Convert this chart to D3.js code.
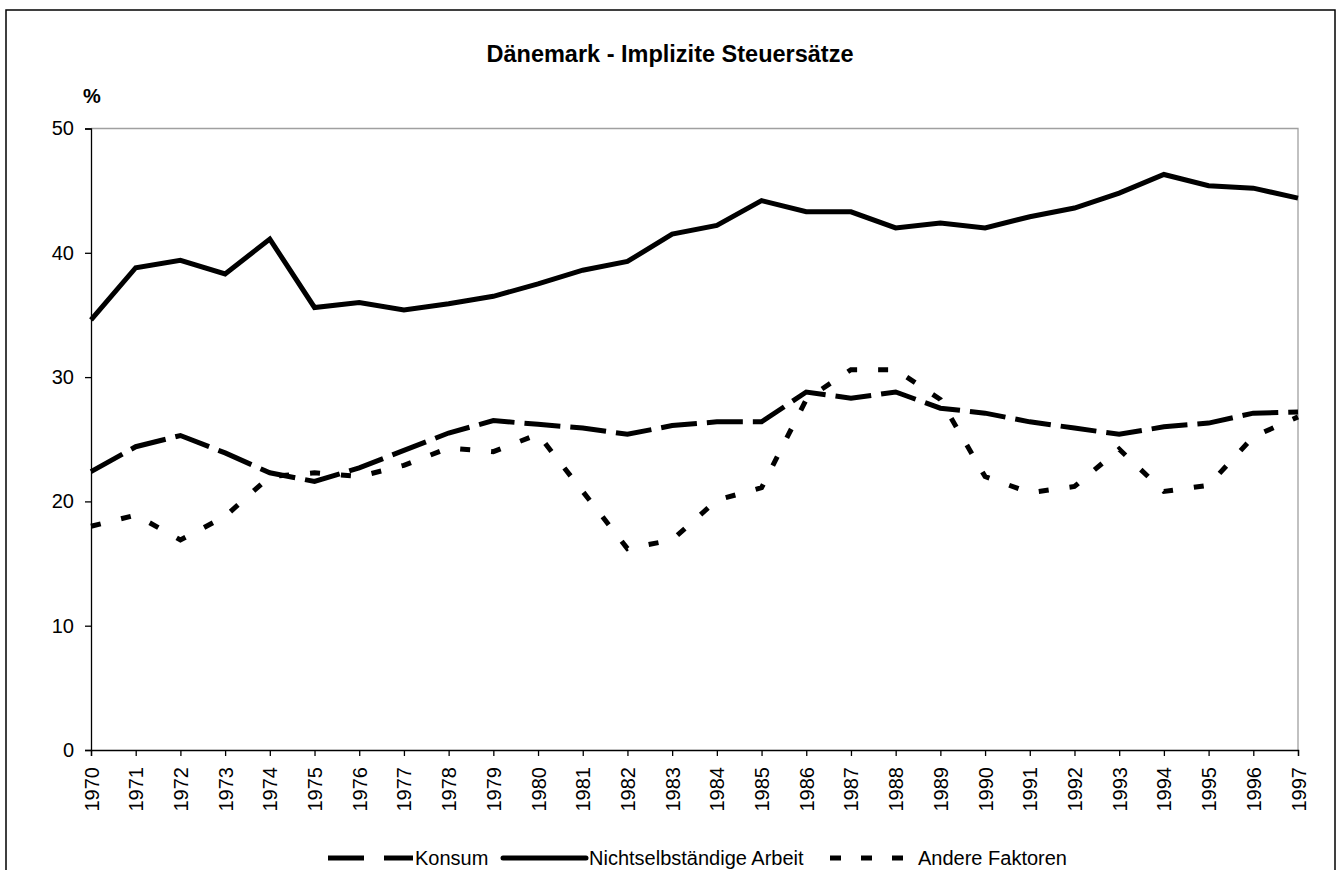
<!DOCTYPE html>
<html>
<head>
<meta charset="utf-8">
<script src="https://cdn.jsdelivr.net/npm/d3@7"></script>
<style>
  body { margin: 0; background: #fff; }
  text { font-family: "Liberation Sans", Arial, sans-serif; fill: #000; }
</style>
</head>
<body>
<div id="chart"></div>
<script>
// data
let years = ["1970","1971","1972","1973","1974","1975","1976","1977","1978","1979",
             "1980","1981","1982","1983","1984","1985","1986","1987","1988","1989",
             "1990","1991","1992","1993","1994","1995","1996","1997"];
let konsum = [22.4, 24.4, 25.3, 23.9, 22.3, 21.6, 22.7, 24.1, 25.5, 26.5,
              26.2, 25.9, 25.4, 26.1, 26.4, 26.4, 28.8, 28.3, 28.8, 27.5,
              27.1, 26.4, 25.9, 25.4, 26.0, 26.3, 27.1, 27.2];
let arbeit = [34.6, 38.8, 39.4, 38.3, 41.1, 35.6, 36.0, 35.4, 35.9, 36.5,
              37.5, 38.6, 39.3, 41.5, 42.2, 44.2, 43.3, 43.3, 42.0, 42.4,
              42.0, 42.9, 43.6, 44.8, 46.3, 45.4, 45.2, 44.4];
let andere = [18.0, 18.9, 16.9, 18.8, 22.0, 22.3, 22.0, 22.9, 24.3, 24.0,
              25.4, 20.8, 16.2, 16.9, 20.1, 21.1, 28.2, 30.6, 30.6, 28.2,
              22.0, 20.7, 21.2, 24.2, 20.8, 21.3, 25.2, 26.8];
let yTicks = [0, 10, 20, 30, 40, 50];
let seriesNames = ["Konsum", "Nichtselbständige Arbeit", "Andere Faktoren"];

// svg size
let svgWidth = 1337;
let svgHeight = 870;

// plot area
let margin = { top: 128.5, right: 39, bottom: 120, left: 91 };
let width = svgWidth - margin.left - margin.right;
let height = 750 - margin.top;

let svg = d3.select("#chart")
    .append("svg")
    .attr("width", svgWidth)
    .attr("height", svgHeight);

svg.append("rect")
    .attr("width", svgWidth)
    .attr("height", svgHeight)
    .attr("fill", "#fff");

// outer frame (runs off the bottom)
svg.append("rect")
    .attr("x", 6)
    .attr("y", 10)
    .attr("width", 1329)
    .attr("height", 900)
    .attr("fill", "none")
    .attr("stroke", "#000")
    .attr("stroke-width", 1.5);

// title and unit
svg.append("text")
    .attr("x", 670)
    .attr("y", 62)
    .attr("text-anchor", "middle")
    .style("font-size", "23.5px")
    .style("font-weight", "bold")
    .text("Dänemark - Implizite Steuersätze");

svg.append("text")
    .attr("x", 83)
    .attr("y", 103)
    .style("font-size", "20px")
    .style("font-weight", "bold")
    .text("%");

let chartGroup = svg.append("g")
    .attr("transform", `translate(${margin.left}, ${margin.top})`);

// scales
let xScale = d3.scalePoint()
    .domain(years)
    .range([0, width]);

let yScale = d3.scaleLinear()
    .domain([0, 50])
    .range([height, 0]);

// grey top and right border of the plot area
chartGroup.append("path")
    .attr("d", `M0,0H${width}V${height}`)
    .attr("fill", "none")
    .attr("stroke", "#a0a0a0")
    .attr("stroke-width", 1.3);

// axes
let leftAxis = d3.axisLeft(yScale)
    .tickValues(yTicks)
    .tickSizeOuter(0)
    .tickSize(6)
    .tickPadding(11);

let bottomAxis = d3.axisBottom(xScale)
    .tickSizeOuter(0)
    .tickSize(6);

let yAxisG = chartGroup.append("g").call(leftAxis);
let xAxisG = chartGroup.append("g")
    .attr("transform", `translate(0, ${height})`)
    .call(bottomAxis);

[yAxisG, xAxisG].forEach(g => {
    g.select(".domain").attr("stroke", "#000").attr("stroke-width", 1.3);
    g.selectAll(".tick line").attr("stroke", "#000").attr("stroke-width", 1.3);
    g.selectAll("text")
        .style("font-size", "20px")
        .style("font-family", "'Liberation Sans', Arial, sans-serif")
        .attr("fill", "#000");
});

xAxisG.selectAll(".tick text")
    .attr("transform", "rotate(-90)")
    .attr("text-anchor", "end")
    .attr("x", -17)
    .attr("y", 0)
    .attr("dy", "0.35em");

// lines
let series = [
    { name: seriesNames[0], values: konsum, dash: "36,10" },
    { name: seriesNames[1], values: arbeit, dash: null },
    { name: seriesNames[2], values: andere, dash: "10,21" }
];

let lineGen = d3.line()
    .x((d, i) => xScale(years[i]))
    .y(d => yScale(d));

series.forEach(s => {
    chartGroup.append("path")
        .datum(s.values)
        .attr("d", lineGen)
        .attr("fill", "none")
        .attr("stroke", "#000")
        .attr("stroke-width", 5)
        .attr("stroke-linejoin", "miter")
        .attr("stroke-dasharray", s.dash);
});

// legend
let legendItems = [
    { name: seriesNames[0], x1: 328, x2: 413, text: 415, dash: "36,20" },
    { name: seriesNames[1], x1: 503, x2: 586, text: 589, dash: null },
    { name: seriesNames[2], x1: 830, x2: 903, text: 918, dash: "11,20" }
];
let legendY = 858;

legendItems.forEach(item => {
    svg.append("line")
        .attr("x1", item.x1)
        .attr("x2", item.x2)
        .attr("y1", legendY)
        .attr("y2", legendY)
        .attr("stroke", "#000")
        .attr("stroke-width", 5)
        .attr("stroke-linecap", item.dash ? "butt" : "round")
        .attr("stroke-dasharray", item.dash);
    svg.append("text")
        .attr("x", item.text)
        .attr("y", 865)
        .style("font-size", "20px")
        .text(item.name);
});
</script>
</body>
</html>
